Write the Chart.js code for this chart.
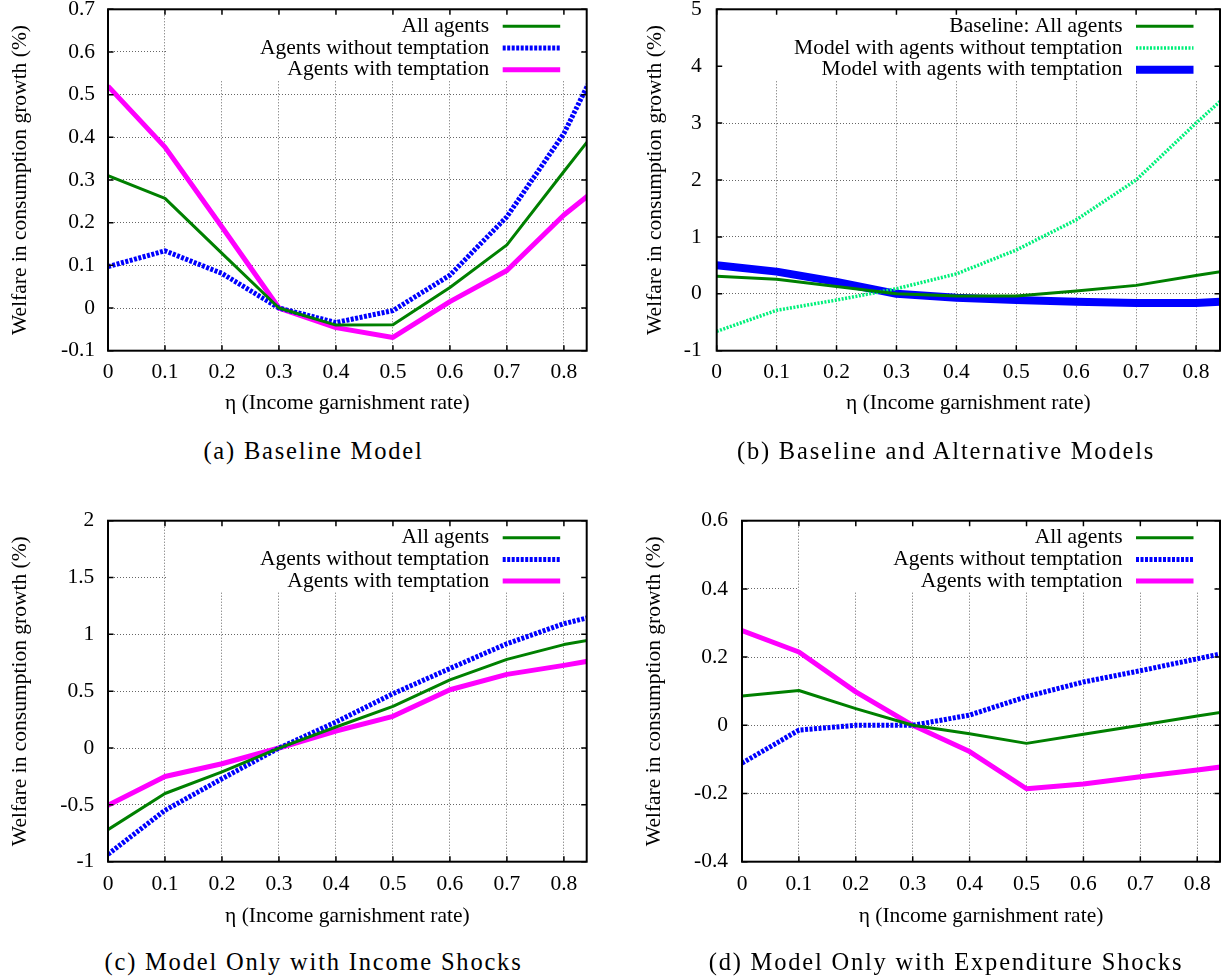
<!DOCTYPE html>
<html>
<head>
<meta charset="utf-8">
<script src="https://cdn.jsdelivr.net/npm/chart.js@4.4.0/dist/chart.umd.min.js"></script>
<style>
html,body{margin:0;padding:0;background:#fff;overflow:hidden;width:1221px;height:979px;position:relative;}
.pnl{position:absolute;}
.pnl canvas{display:block;}
.cap{position:absolute;font-family:"Liberation Serif","Times New Roman",serif;font-size:24.5px;line-height:30px;letter-spacing:1.8px;text-align:center;color:#000;white-space:nowrap;width:600px;}
</style>
</head>
<body>
<div class="pnl" style="left:0px;top:-20px"><canvas id="ca"></canvas></div>
<div class="pnl" style="left:610px;top:-20px"><canvas id="cb"></canvas></div>
<div class="pnl" style="left:0px;top:490px"><canvas id="cc"></canvas></div>
<div class="pnl" style="left:610px;top:490px"><canvas id="cd"></canvas></div>
<div class="cap" style="left:13.5px;top:436px">(a) Baseline Model</div>
<div class="cap" style="left:646px;top:436px">(b) Baseline and Alternative Models</div>
<div class="cap" style="left:13.5px;top:946.5px">(c) Model Only with Income Shocks</div>
<div class="cap" style="left:646px;top:946.5px">(d) Model Only with Expenditure Shocks</div>
<script>
// ---------- data ----------
const etaValues = [0, 0.1, 0.2, 0.3, 0.4, 0.5, 0.6, 0.7, 0.8, 0.9];
const xTickValues = [0, 0.1, 0.2, 0.3, 0.4, 0.5, 0.6, 0.7, 0.8];
const xTickLabels = ["0", "0.1", "0.2", "0.3", "0.4", "0.5", "0.6", "0.7", "0.8"];
const xMax = 0.84;

// (a) Baseline Model
const aYTicks = [-0.1, 0, 0.1, 0.2, 0.3, 0.4, 0.5, 0.6, 0.7];
const aYLabels = ["-0.1", "0", "0.1", "0.2", "0.3", "0.4", "0.5", "0.6", "0.7"];
const aAllAgents = [0.31, 0.257, 0.128, 0, -0.04, -0.039, 0.048, 0.148, 0.32, 0.49];
const aWithoutTemptation = [0.097, 0.134, 0.081, 0, -0.034, -0.006, 0.077, 0.214, 0.409, 0.68];
const aWithTemptation = [0.52, 0.377, 0.19, 0, -0.046, -0.069, 0.015, 0.088, 0.218, 0.325];

// (b) Baseline and Alternative Models
const bYTicks = [-1, 0, 1, 2, 3, 4, 5];
const bYLabels = ["-1", "0", "1", "2", "3", "4", "5"];
const bBaselineAll = [0.31, 0.257, 0.128, 0, -0.04, -0.039, 0.048, 0.148, 0.32, 0.49];
const bModelWithout = [-0.66, -0.29, -0.11, 0.09, 0.35, 0.77, 1.3, 2.0, 3.0, 3.95];
const bModelWith = [0.5, 0.39, 0.21, 0, -0.07, -0.11, -0.14, -0.16, -0.16, -0.11];

// (c) Model Only with Income Shocks
const cYTicks = [-1, -0.5, 0, 0.5, 1, 1.5, 2];
const cYLabels = ["-1", "-0.5", "0", "0.5", "1", "1.5", "2"];
const cAllAgents = [-0.718, -0.40, -0.21, 0, 0.185, 0.367, 0.60, 0.78, 0.91, 1.0];
const cWithoutTemptation = [-0.935, -0.548, -0.27, 0, 0.229, 0.478, 0.70, 0.918, 1.094, 1.22];
const cWithTemptation = [-0.504, -0.25, -0.138, 0, 0.15, 0.279, 0.513, 0.648, 0.727, 0.815];

// (d) Model Only with Expenditure Shocks
const dYTicks = [-0.4, -0.2, 0, 0.2, 0.4, 0.6];
const dYLabels = ["-0.4", "-0.2", "0", "0.2", "0.4", "0.6"];
const dAllAgents = [0.086, 0.102, 0.049, 0, -0.025, -0.053, -0.026, 0, 0.027, 0.054];
const dWithoutTemptation = [-0.111, -0.014, 0, 0, 0.03, 0.084, 0.127, 0.16, 0.195, 0.23];
const dWithTemptation = [0.278, 0.215, 0.098, 0, -0.077, -0.186, -0.172, -0.151, -0.131, -0.11];

const xTitle = "η (Income garnishment rate)";
const yTitle = "Welfare in consumption growth (%)";

// ---------- styles ----------
const FONT = '"Liberation Serif", "Times New Roman", serif';
const FS = 21.5;
const GREEN = {color: '#008000', width: 3, dash: []};
const BLUE_DOT = {color: '#0000ff', width: 5, dash: [3, 1.5]};
const MAGENTA = {color: '#ff00ff', width: 5, dash: []};
const SPRING_DOT = {color: '#00f07a', width: 3.5, dash: [2, 1.5]};
const BLUE_THICK = {color: '#0000ff', width: 8, dash: []};

Chart.defaults.font.family = FONT;
Chart.defaults.color = '#000';

const gnuFrame = {
  id: 'gnuFrame',
  beforeDatasetsDraw(chart, args, o) {
    const ctx = chart.ctx, a = chart.chartArea;
    ctx.save();
    ctx.fillStyle = '#fff';
    ctx.fillRect(a.left + o.boxLeft, a.top, (a.right - o.boxRight) - (a.left + o.boxLeft), o.boxBottom);
    ctx.restore();
  },
  afterDatasetsDraw(chart, args, o) {
    const ctx = chart.ctx, a = chart.chartArea, sc = chart.scales;
    ctx.save();
    ctx.font = FS + 'px ' + FONT;
    ctx.textAlign = 'right';
    ctx.textBaseline = 'middle';
    ctx.fillStyle = '#000';
    chart.data.datasets.forEach((ds, i) => {
      const y = a.top + o.rowTop + i * o.rowGap;
      ctx.fillText(ds.label, a.right - o.textRight, y);
      ctx.save();
      ctx.strokeStyle = ds.borderColor;
      ctx.lineWidth = ds.borderWidth;
      ctx.setLineDash(ds.borderDash || []);
      ctx.lineCap = 'butt';
      ctx.beginPath();
      ctx.moveTo(a.right - o.lineFrom, y);
      ctx.lineTo(a.right - o.lineTo, y);
      ctx.stroke();
      ctx.restore();
    });
    ctx.setLineDash([]);
    ctx.strokeStyle = '#000';
    ctx.lineWidth = 1.5;
    ctx.beginPath();
    sc.x.ticks.forEach(t => {
      const px = sc.x.getPixelForValue(t.value);
      ctx.moveTo(px, a.bottom); ctx.lineTo(px, a.bottom - o.tickLen);
      ctx.moveTo(px, a.top); ctx.lineTo(px, a.top + o.tickLen);
    });
    sc.y.ticks.forEach(t => {
      const py = sc.y.getPixelForValue(t.value);
      ctx.moveTo(a.left, py); ctx.lineTo(a.left + o.tickLen, py);
      ctx.moveTo(a.right, py); ctx.lineTo(a.right - o.tickLen, py);
    });
    ctx.stroke();
    ctx.lineWidth = 2;
    ctx.strokeRect(a.left, a.top, a.right - a.left, a.bottom - a.top);
    ctx.restore();
  }
};

function makePanel(p) {
  const canvas = document.getElementById(p.id);
  canvas.width = p.w; canvas.height = p.h;
  canvas.style.width = p.w + 'px'; canvas.style.height = p.h + 'px';
  const font = {family: FONT, size: FS, lineHeight: 1.2};
  const gridCfg = {color: 'rgba(0,0,0,0.6)', lineWidth: 1, drawTicks: false};
  new Chart(canvas, {
    type: 'line',
    data: {
      datasets: p.series.map(s => ({
        label: s.label,
        data: etaValues.map((x, i) => ({x: x, y: s.values[i]})),
        borderColor: s.style.color,
        borderWidth: s.style.width,
        borderDash: s.style.dash,
        borderCapStyle: 'butt',
        borderJoinStyle: 'round',
        pointRadius: 0,
        tension: 0,
        fill: false,
        clip: 0
      }))
    },
    options: {
      responsive: false,
      animation: false,
      devicePixelRatio: 1,
      layout: {padding: {left: 0, top: p.padTop, right: p.padRight, bottom: 0}},
      plugins: {
        legend: {display: false},
        tooltip: {enabled: false},
        gnuFrame: Object.assign({rowTop: 17, rowGap: 21.7, textRight: 97.5, lineFrom: 84, lineTo: 26.5, tickLen: 5.5}, p.legend)
      },
      scales: {
        x: {
          type: 'linear', min: 0, max: xMax,
          afterBuildTicks: s => { s.ticks = xTickValues.map(v => ({value: v})); },
          afterFit: s => { s.height = p.xAxisH; },
          ticks: {callback: (v, i) => xTickLabels[i], padding: p.xTickPad, font: font, color: '#000', maxRotation: 0, autoSkip: false},
          grid: gridCfg,
          border: {display: false, dash: [1, 2]},
          title: {display: true, text: xTitle, font: font, color: '#000', padding: {top: 0, bottom: p.xTitlePad}}
        },
        y: {
          type: 'linear', min: p.yMin, max: p.yMax,
          afterBuildTicks: s => { s.ticks = p.yTicks.map(v => ({value: v})); },
          afterFit: s => { s.width = p.yAxisW; },
          ticks: {callback: (v, i) => p.yLabels[i], padding: p.yTickPad, font: font, color: '#000', autoSkip: false},
          grid: gridCfg,
          border: {display: false, dash: [1, 2]},
          title: {display: true, text: yTitle, font: font, color: '#000', padding: {top: p.yTitlePad, bottom: 0}}
        }
      }
    },
    plugins: [gnuFrame]
  });
}

makePanel({
  id: 'ca', w: 611, h: 450, padTop: 29.3, padRight: 24.3, yAxisW: 108, xAxisH: 79.3,
  xTickPad: 9, xTitlePad: 13.7, yTickPad: 13, yTitlePad: 7.1,
  yMin: -0.1, yMax: 0.7, yTicks: aYTicks, yLabels: aYLabels,
  legend: {boxLeft: 58, boxRight: 6, boxBottom: 71},
  series: [
    {label: 'All agents', values: aAllAgents, style: GREEN},
    {label: 'Agents without temptation', values: aWithoutTemptation, style: BLUE_DOT},
    {label: 'Agents with temptation', values: aWithTemptation, style: MAGENTA}
  ]
});
makePanel({
  id: 'cb', w: 611, h: 450, padTop: 29.3, padRight: 1, yAxisW: 106.7, xAxisH: 79.3,
  xTickPad: 9, xTitlePad: 13.7, yTickPad: 15, yTitlePad: 32.5,
  yMin: -1, yMax: 5, yTicks: bYTicks, yLabels: bYLabels,
  legend: {boxLeft: 6, boxRight: 6, boxBottom: 71},
  series: [
    {label: 'Baseline: All agents', values: bBaselineAll, style: GREEN},
    {label: 'Model with agents without temptation', values: bModelWithout, style: SPRING_DOT},
    {label: 'Model with agents with temptation', values: bModelWith, style: BLUE_THICK}
  ]
});
makePanel({
  id: 'cc', w: 611, h: 451, padTop: 30.7, padRight: 24.3, yAxisW: 108, xAxisH: 79.3,
  xTickPad: 10, xTitlePad: 11.4, yTickPad: 13.7, yTitlePad: 7.1,
  yMin: -1, yMax: 2, yTicks: cYTicks, yLabels: cYLabels,
  legend: {boxLeft: 58, boxRight: 6, boxBottom: 71},
  series: [
    {label: 'All agents', values: cAllAgents, style: GREEN},
    {label: 'Agents without temptation', values: cWithoutTemptation, style: BLUE_DOT},
    {label: 'Agents with temptation', values: cWithTemptation, style: MAGENTA}
  ]
});
makePanel({
  id: 'cd', w: 611, h: 451, padTop: 30.7, padRight: 1, yAxisW: 132, xAxisH: 79.3,
  xTickPad: 10, xTitlePad: 11.4, yTickPad: 14, yTitlePad: 31.5,
  yMin: -0.4, yMax: 0.6, yTicks: dYTicks, yLabels: dYLabels,
  legend: {boxLeft: 57, boxRight: 6, boxBottom: 71},
  series: [
    {label: 'All agents', values: dAllAgents, style: GREEN},
    {label: 'Agents without temptation', values: dWithoutTemptation, style: BLUE_DOT},
    {label: 'Agents with temptation', values: dWithTemptation, style: MAGENTA}
  ]
});
</script>
</body>
</html>
